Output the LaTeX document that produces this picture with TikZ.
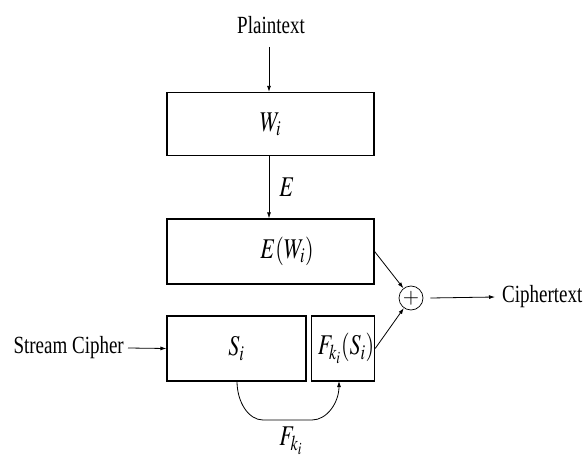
\documentclass[tikz,border=0pt]{standalone}
\usepackage{mathptmx}
\usepackage{fontspec}
\setmainfont{Liberation Serif}
\usetikzlibrary{arrows.meta}
\newcommand\vst[1]{\scalebox{1}[1.3]{#1}}
\begin{document}
\begin{tikzpicture}[x=1pt,y=1pt,
  txt/.style={font=\fontsize{19}{22}\selectfont, inner sep=0pt},
  mth/.style={font=\fontsize{22}{24}\selectfont, inner sep=0pt},
  box/.style={draw, line width=1.2pt, inner sep=0pt, font=\fontsize{22}{24}\selectfont},
  arr/.style={-{Latex[length=6pt,width=4pt]}, line width=0.8pt}]
\useasboundingbox (0,0) rectangle (584,459);
% nodes
\node[txt] (plain) at (271,434) {\vst{Plaintext}};
\node[box, minimum width=207pt, minimum height=63pt] (w) at (270.5,335) {\vst{$W_i$}};
\node[box, minimum width=207pt, minimum height=65pt] (ew) at (270.5,207.5) {};
\node[mth] (ewt) at (287,207.5) {\vst{$E(W_i)$}};
\node[box, minimum width=139pt, minimum height=65pt] (s) at (236.5,110.5) {\vst{$S_i$}};
\node[box, minimum width=63pt, minimum height=65pt, text width=62pt, align=right, anchor=west] (f) at (311,110.5) {\vst{$F_{k_i}(S_i)$}};
\node[draw, circle, line width=0.7pt, minimum width=22pt, minimum height=24pt, inner sep=0pt, font=\fontsize{21}{22}\selectfont] (x) at (411,161) {$+$};
\node[txt, anchor=west] (ct) at (502,162) {\vst{Ciphertext}};
\node[txt, anchor=east] (sc) at (124,111) {\vst{Stream Cipher}};
\node[mth] (e) at (287,272) {\vst{$E$}};
\node[mth] (fk) at (291,18) {\vst{$F_{k_i}$}};
\coordinate (pt) at (269,412);
\coordinate (c1) at (237,78);
\coordinate (c2) at (339,78);
% connectors
\draw[arr] (pt) -- (w.north -| pt);
\draw[arr] (w.south -| pt) -- (ew.north -| pt);
\draw[arr] (ew.east) -- (x);
\draw[arr] (f.east) -- (x);
\draw[arr] ([xshift=7pt]x.east) -- ([xshift=-7pt]ct.west);
\draw[arr] ([xshift=4pt]sc.east) -- (s.west);
\draw[arr] (c1) .. controls (237,56.5) and (248.7,39) .. (263,39) -- (312,39) .. controls (327,39) and (339,56.5) .. (c2);
\end{tikzpicture}
\end{document}
